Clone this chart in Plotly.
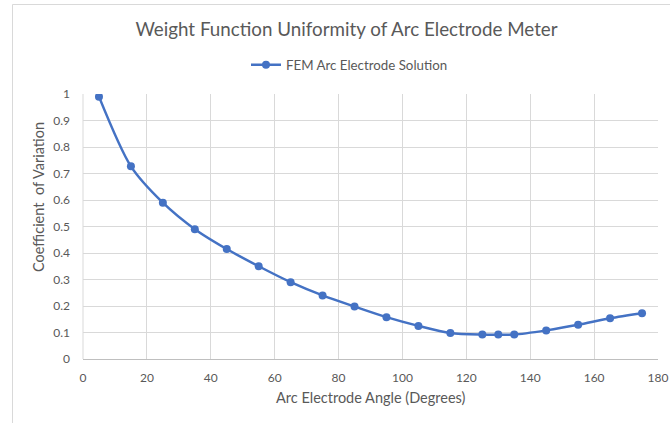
import plotly.graph_objects as go

# Arc electrode angle (degrees) and coefficient of variation from the FEM runs
angles = [5, 15, 25, 35, 45, 55, 65, 75, 85, 95, 105, 115, 125, 130, 135, 145, 155, 165, 175]
cov = [0.99, 0.727, 0.59, 0.49, 0.415, 0.35, 0.29, 0.24, 0.198, 0.158, 0.125, 0.098,
       0.092, 0.092, 0.092, 0.108, 0.129, 0.154, 0.173]

x_ticks = [0, 20, 40, 60, 80, 100, 120, 140, 160, 180]
y_ticks = [0, 0.1, 0.2, 0.3, 0.4, 0.5, 0.6, 0.7, 0.8, 0.9, 1]

W, H = 670, 423
ML, MR, MT, MB = 83, 12, 94, 64
pw, ph = W - ML - MR, H - MT - MB

def px_to_paper_x(px):
    return (px - ML) / pw

def py_to_paper_y(py):
    return (H - MB - py) / ph

FONT = "Lato, Carlito, sans-serif"
GREY = "#595959"
BLUE = "#4472C4"

fig = go.Figure()
fig.add_trace(go.Scatter(
    x=angles, y=cov, mode="lines+markers", name="FEM Arc Electrode Solution",
    line=dict(color=BLUE, width=2.5, shape="spline", smoothing=0.8),
    marker=dict(color=BLUE, size=8),
))

fig.update_layout(
    width=W, height=H,
    margin=dict(l=ML, r=MR, t=MT, b=MB, autoexpand=False),
    paper_bgcolor="white", plot_bgcolor="white",
    font=dict(family=FONT, color=GREY),
    title=dict(text="Weight Function Uniformity of Arc Electrode Meter",
               x=346.5 / W, xanchor="center", y=1 - 29.5 / H, yanchor="middle",
               font=dict(size=18.8, color=GREY, family=FONT)),
    showlegend=True,
    legend=dict(orientation="h", x=px_to_paper_x(246), xanchor="left",
                y=py_to_paper_y(65), yanchor="middle",
                font=dict(size=13.3, color=GREY, family=FONT),
                bgcolor="rgba(0,0,0,0)"),
    xaxis=dict(range=[0, 180], tickvals=x_ticks, ticktext=[str(v) for v in x_ticks],
               showgrid=True, gridcolor="#d9d9d9", gridwidth=1,
               showline=True, linecolor="#bfbfbf", linewidth=1,
               zeroline=False, ticks="", ticklabelstandoff=8,
               tickfont=dict(size=12, color=GREY), automargin=False),
    yaxis=dict(range=[0, 1], tickvals=y_ticks, ticktext=[f"{v:g}" for v in y_ticks],
               showgrid=True, gridcolor="#d9d9d9", gridwidth=1,
               showline=False, zeroline=False, ticks="", ticklabelstandoff=12,
               tickfont=dict(size=12, color=GREY), automargin=False),
)

# axis titles
fig.add_annotation(text="Arc Electrode Angle (Degrees)", xref="paper", yref="paper",
                   x=0.5, y=py_to_paper_y(397), xanchor="center", yanchor="middle",
                   showarrow=False, font=dict(size=14.5, color=GREY, family=FONT))
fig.add_annotation(text="Coefficient  of Variation", xref="paper", yref="paper",
                   x=px_to_paper_x(38), y=py_to_paper_y(197), xanchor="center",
                   yanchor="middle", textangle=-90, showarrow=False,
                   font=dict(size=14.5, color=GREY, family=FONT))

# vertical axis line at x = 0
fig.add_shape(type="line", xref="paper", yref="paper", x0=0, x1=0, y0=0, y1=1,
              line=dict(color="#d9d9d9", width=1))

# outer chart frame (left and top edges)
fig.add_shape(type="line", xref="paper", yref="paper",
              x0=px_to_paper_x(12.5), x1=px_to_paper_x(12.5),
              y0=py_to_paper_y(4.5), y1=py_to_paper_y(423),
              line=dict(color="#d9d9d9", width=1))
fig.add_shape(type="line", xref="paper", yref="paper",
              x0=px_to_paper_x(12.5), x1=px_to_paper_x(670),
              y0=py_to_paper_y(4.5), y1=py_to_paper_y(4.5),
              line=dict(color="#d9d9d9", width=1))

fig.write_html("out.html")
